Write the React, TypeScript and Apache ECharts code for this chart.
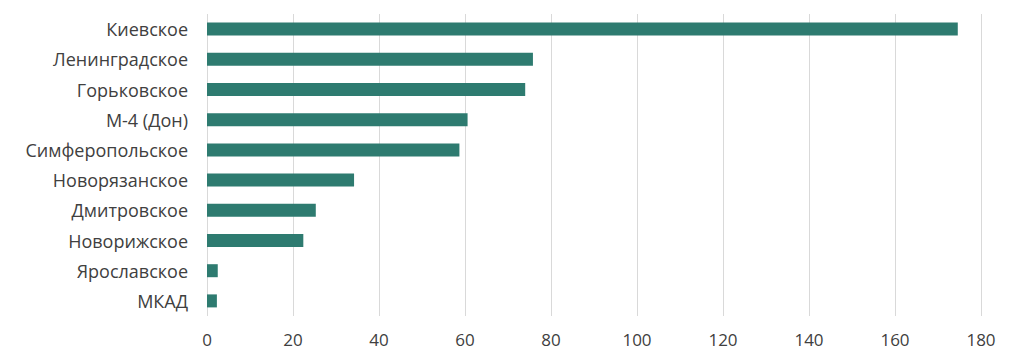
import React, { useEffect, useRef } from "react";
import * as echarts from "echarts";

const categories = [
  "Киевское",
  "Ленинградское",
  "Горьковское",
  "М-4 (Дон)",
  "Симферопольское",
  "Новорязанское",
  "Дмитровское",
  "Новорижское",
  "Ярославское",
  "МКАД",
];
const values = [174.6, 75.8, 74.0, 60.6, 58.7, 34.2, 25.3, 22.4, 2.5, 2.3];
const xTicks = { min: 0, max: 180, interval: 20 };

export default function App() {
  const ref = useRef<HTMLDivElement>(null);
  useEffect(() => {
    if (!ref.current) return;
    const chart = echarts.init(ref.current, null, { renderer: "svg" });
    chart.setOption({
      animation: false,
      grid: { left: 207, right: 43, top: 14, bottom: 42, containLabel: false },
      xAxis: {
        type: "value",
        min: xTicks.min,
        max: xTicks.max,
        interval: xTicks.interval,
        axisLine: { show: false },
        axisTick: { show: false },
        splitLine: { show: true, lineStyle: { color: "#d9d9d9", width: 1 } },
        axisLabel: {
          color: "#404040",
          fontFamily: "Open Sans",
          fontSize: 17,
          margin: 15,
        },
      },
      yAxis: {
        type: "category",
        data: categories,
        inverse: true,
        axisLine: { show: false },
        axisTick: { show: false },
        axisLabel: {
          color: "#404040",
          fontFamily: "Open Sans",
          fontSize: 18,
          margin: 19,
        },
      },
      series: [
        {
          type: "bar",
          data: values,
          barWidth: 13,
          itemStyle: { color: "#2e7b70" },
        },
      ],
    });
    return () => chart.dispose();
  }, []);
  return (
    <div
      ref={ref}
      style={{ position: "absolute", left: 0, top: 0, width: 1024, height: 358 }}
    />
  );
}
